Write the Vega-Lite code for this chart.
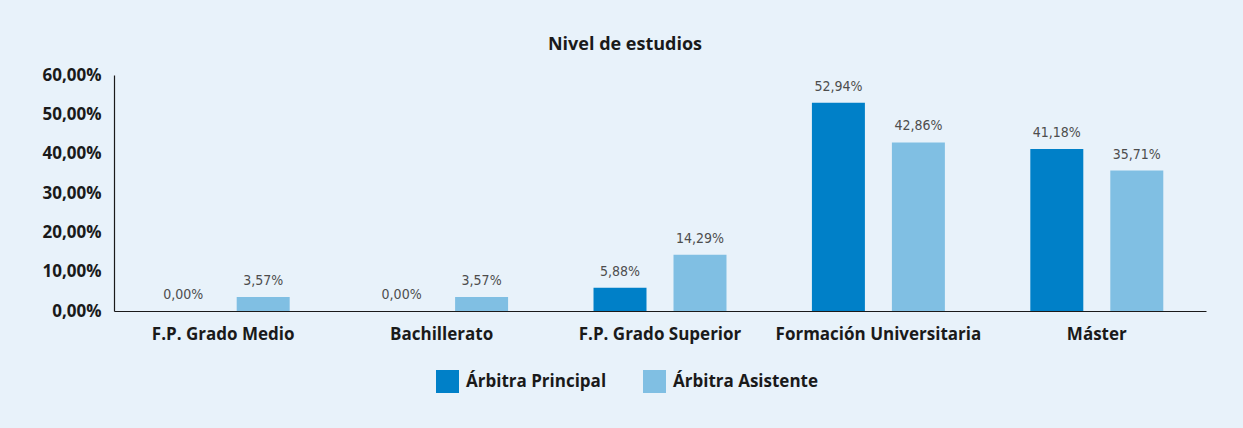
{
  "$schema": "https://vega.github.io/schema/vega-lite/v6.json",
  "width": 1092,
  "height": 236,
  "autosize": {"type": "none"},
  "padding": {"left": 114, "top": 75, "right": 37, "bottom": 117},
  "background": "#e8f2fa",
  "title": {
    "text": "Nivel de estudios",
    "font": "Open Sans",
    "fontSize": 18,
    "fontWeight": "bold",
    "color": "#1a1a1a",
    "anchor": "middle",
    "dx": -35,
    "offset": 12
  },
  "data": {
    "values": [
      {"nivel": "F.P. Grado Medio", "serie": "Árbitra Principal", "v": 0},
      {"nivel": "F.P. Grado Medio", "serie": "Árbitra Asistente", "v": 0.0357},
      {"nivel": "Bachillerato", "serie": "Árbitra Principal", "v": 0},
      {"nivel": "Bachillerato", "serie": "Árbitra Asistente", "v": 0.0357},
      {"nivel": "F.P. Grado Superior", "serie": "Árbitra Principal", "v": 0.0588},
      {"nivel": "F.P. Grado Superior", "serie": "Árbitra Asistente", "v": 0.1429},
      {"nivel": "Formación Universitaria", "serie": "Árbitra Principal", "v": 0.5294},
      {"nivel": "Formación Universitaria", "serie": "Árbitra Asistente", "v": 0.4286},
      {"nivel": "Máster", "serie": "Árbitra Principal", "v": 0.4118},
      {"nivel": "Máster", "serie": "Árbitra Asistente", "v": 0.3571}
    ]
  },
  "encoding": {
    "x": {
      "field": "nivel",
      "type": "nominal",
      "sort": null,
      "scale": {"paddingInner": 0, "paddingOuter": 0},
      "axis": {
        "title": null,
        "labelAngle": 0,
        "labelLimit": 0,
        "ticks": false,
        "domainColor": "#1a1a1a",
        "domainWidth": 1.2,
        "labelFont": "Open Sans",
        "labelFontSize": 17,
        "labelFontWeight": "bold",
        "labelColor": "#1a1a1a",
        "labelPadding": 15
      }
    },
    "xOffset": {
      "field": "serie",
      "type": "nominal",
      "sort": ["Árbitra Principal", "Árbitra Asistente"],
      "scale": {"paddingInner": 0.3375, "paddingOuter": 0.534}
    },
    "y": {
      "field": "v",
      "type": "quantitative",
      "scale": {"domain": [0, 0.6], "nice": false},
      "axis": {
        "title": null,
        "values": [0, 0.1, 0.2, 0.3, 0.4, 0.5, 0.6],
        "format": ".2%",
        "grid": false,
        "ticks": false,
        "domainColor": "#1a1a1a",
        "domainWidth": 1.2,
        "labelFont": "Open Sans",
        "labelFontSize": 17,
        "labelFontWeight": "bold",
        "labelColor": "#1a1a1a",
        "labelPadding": 13
      }
    }
  },
  "layer": [
    {
      "mark": {"type": "bar"},
      "encoding": {
        "color": {
          "field": "serie",
          "type": "nominal",
          "scale": {"domain": ["Árbitra Principal", "Árbitra Asistente"], "range": ["#0080c8", "#80bfe3"]},
          "legend": {
            "title": null,
            "orient": "none",
            "direction": "horizontal",
            "legendX": 322,
            "legendY": 295,
            "symbolType": "square",
            "symbolSize": 529,
            "symbolStrokeWidth": 0,
            "symbolOpacity": 1,
            "labelFont": "Open Sans",
            "labelFontSize": 17,
            "labelFontWeight": "bold",
            "labelColor": "#1a1a1a",
            "labelOffset": 7,
            "columnPadding": 36
          }
        }
      }
    },
    {
      "mark": {"type": "text", "dy": -9, "baseline": "bottom", "font": "DejaVu Sans Condensed", "fontSize": 14, "color": "#4d4d4d"},
      "encoding": {
        "text": {"field": "v", "type": "quantitative", "format": ".2%"}
      }
    }
  ],
  "config": {
    "view": {"stroke": null},
    "locale": {
      "number": {"decimal": ",", "thousands": ".", "grouping": [3], "currency": ["", " €"]}
    }
  }
}
